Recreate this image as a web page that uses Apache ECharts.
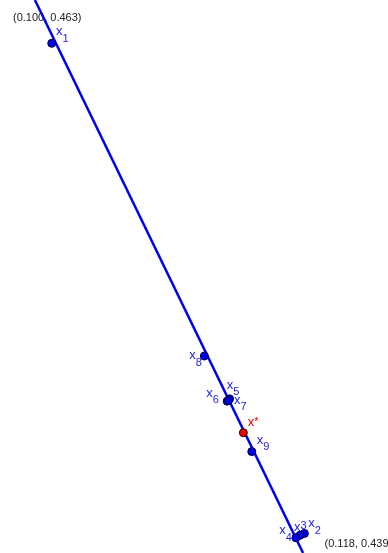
<!DOCTYPE html>
<html><head><meta charset="utf-8">
<script src="https://cdn.jsdelivr.net/npm/echarts@6/dist/echarts.min.js"></script>
<style>html,body{margin:0;padding:0;background:#fff;overflow:hidden}#c{width:388px;height:553px}</style>
</head><body><div id="c"></div>
<script>
// View window (data coordinates of the corners)
const xRange = [0.100, 0.118];
const yRange = [0.439, 0.463];
const cornerLabels = ['(0.100, 0.463)', '(0.118, 0.439)'];

// Search line
const lineX = [0.10162, 0.11406];
const lineY = [0.463, 0.439];

// Sample points
const pointNames = ['x1', 'x2', 'x3', 'x4', 'x5', 'x6', 'x7', 'x8', 'x9'];
const pointX = [0.10240, 0.11412, 0.11392, 0.11373, 0.11065, 0.11054, 0.11060, 0.10948, 0.11168];
const pointY = [0.46112, 0.43985, 0.43977, 0.43966, 0.44569, 0.44559, 0.44562, 0.44755, 0.44340];

// Optimum
const optName = ['x*'];
const optX = [0.11129];
const optY = [0.44422];

// label placement (style only)
const labelOffsets = {
  x1: [4.3, -18.3], x2: [4, -16], x3: [-6, -14.6], x4: [-16.7, -13.7],
  x5: [-2.8, -20.2], x6: [-21, -14.3], x7: [5.5, -6.5], x8: [-15, -7],
  x9: [5, -17.7], 'x*': [4.4, -16.7]
};
const raised = { x3: true, 'x*': true };

const blue = '#0000f0';
const labelBlue = '#1c1ce0';
const red = '#e60000';
const fam = '"Liberation Sans", Arial, sans-serif';

function richFor(color) {
  return {
    v: { fontSize: 13, lineHeight: 13, verticalAlign: 'top', color: color, fontFamily: fam },
    s: { fontSize: 11, lineHeight: 11, verticalAlign: 'top', padding: [8, 0, 0, 0], color: color, fontFamily: fam },
    p: { fontSize: 11, lineHeight: 11, verticalAlign: 'top', padding: [0, 0, 0, 0], color: color, fontFamily: fam }
  };
}
function fmt(p) {
  const n = p.name;
  const idx = n.slice(1);
  return '{v|x}' + (raised[n] ? '{p|' + idx + '}' : '{s|' + idx + '}');
}
function makeData(names, xs, ys) {
  return names.map((n, i) => ({
    name: n,
    value: [xs[i], ys[i]],
    label: { offset: labelOffsets[n] }
  }));
}

const chart = echarts.init(document.getElementById('c'), null, { renderer: 'canvas' });
chart.setOption({
  animation: false,
  backgroundColor: '#ffffff',
  grid: { left: 0, right: 0, top: 0, bottom: 0 },
  xAxis: { type: 'value', min: xRange[0], max: xRange[1], show: false },
  yAxis: { type: 'value', min: yRange[0], max: yRange[1], show: false },
  graphic: [
    { type: 'text', left: 13, top: 12.5, z: 0,
      style: { text: cornerLabels[0], font: '11px ' + fam, fill: '#222' } },
    { type: 'text', left: 324.5, top: 538.5, z: 0,
      style: { text: cornerLabels[1], font: '11px ' + fam, fill: '#222' } }
  ],
  series: [
    {
      type: 'line',
      data: lineX.map((x, i) => [x, lineY[i]]),
      showSymbol: false,
      symbol: 'none',
      lineStyle: { color: blue, width: 2.5 },
      z: 3,
      silent: true
    },
    {
      type: 'scatter',
      data: makeData(pointNames, pointX, pointY),
      symbol: 'circle',
      symbolSize: 8,
      itemStyle: { color: blue, borderColor: '#000030', borderWidth: 1, opacity: 1 },
      label: { show: true, position: 'inside', align: 'left', verticalAlign: 'top', formatter: fmt, rich: richFor(labelBlue) },
      z: 5
    },
    {
      type: 'scatter',
      data: makeData(optName, optX, optY),
      symbol: 'circle',
      symbolSize: 8,
      itemStyle: { color: red, borderColor: '#300000', borderWidth: 1, opacity: 1 },
      label: { show: true, position: 'inside', align: 'left', verticalAlign: 'top', formatter: fmt, rich: richFor(red) },
      z: 6
    }
  ]
});
</script></body></html>
